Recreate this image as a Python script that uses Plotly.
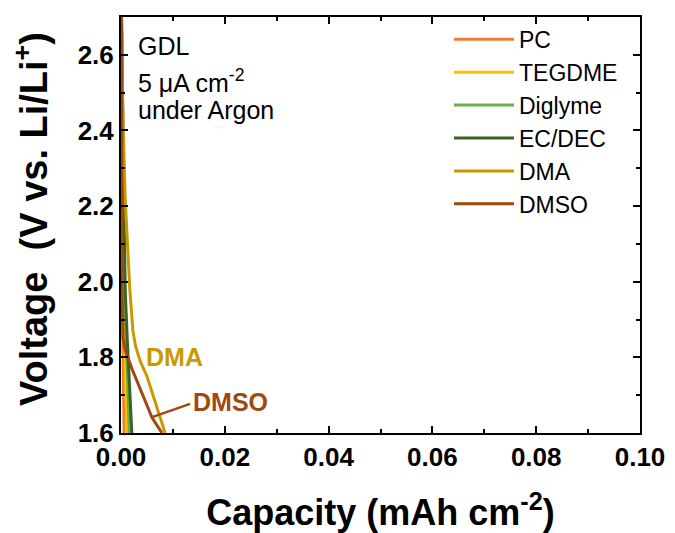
import plotly.graph_objects as go

# Data (capacity in mAh cm-2, voltage in V vs Li/Li+)
pc_cap = [0.0, 0.0001, 0.0002, 0.0003, 0.0005, 0.0006]
pc_v = [2.70, 2.40, 2.10, 1.90, 1.70, 1.60]

tegdme_cap = [0.0, 0.0002, 0.0004, 0.0006, 0.0009, 0.0012]
tegdme_v = [2.70, 2.40, 2.10, 1.90, 1.72, 1.60]

diglyme_cap = [0.0001, 0.0003, 0.0005, 0.0008, 0.0012, 0.0016]
diglyme_v = [2.70, 2.40, 2.15, 1.95, 1.75, 1.60]

ecdec_cap = [0.0001, 0.0004, 0.0008, 0.0012, 0.0017, 0.0021]
ecdec_v = [2.70, 2.35, 1.98, 1.85, 1.70, 1.595]

dma_cap = [0.0001, 0.0003, 0.0008, 0.0017, 0.0023, 0.0028, 0.0037, 0.0050, 0.0085]
dma_v = [2.70, 2.48, 2.22, 1.98, 1.87, 1.83, 1.79, 1.75, 1.60]

dmso_cap = [0.0001, 0.0002, 0.0004, 0.0008, 0.0021, 0.0060, 0.0079]
dmso_v = [2.70, 1.98, 1.85, 1.82, 1.77, 1.64, 1.60]

series = [
    ("PC", pc_cap, pc_v, "#ED7D31"),
    ("TEGDME", tegdme_cap, tegdme_v, "#FFC000"),
    ("Diglyme", diglyme_cap, diglyme_v, "#70AD47"),
    ("EC/DEC", ecdec_cap, ecdec_v, "#3B6526"),
    ("DMA", dma_cap, dma_v, "#C99A00"),
    ("DMSO", dmso_cap, dmso_v, "#A0480E"),
]

x_ticks = [0.0, 0.02, 0.04, 0.06, 0.08, 0.10]
x_ticklabels = ["0.00", "0.02", "0.04", "0.06", "0.08", "0.10"]
y_ticks = [1.6, 1.8, 2.0, 2.2, 2.4, 2.6]
y_ticklabels = ["1.6", "1.8", "2.0", "2.2", "2.4", "2.6"]

FONT = "Liberation Sans, Arial, sans-serif"

fig = go.Figure()
for name, xs, ys, col in series:
    fig.add_trace(go.Scatter(x=xs, y=ys, mode="lines", name=name,
                             line=dict(color=col, width=3)))

axis_common = dict(
    showgrid=False, zeroline=False, showline=True, linecolor="black", linewidth=2,
    mirror="ticks", ticks="inside", ticklen=7, tickwidth=2, tickcolor="black",
    tickfont=dict(family=FONT, size=26, color="black", weight="bold"),
    automargin=False,
)

fig.update_xaxes(
    range=[0, 0.1], tickvals=x_ticks, ticktext=x_ticklabels,
    minor=dict(dtick=0.01, ticks="inside", ticklen=4, tickwidth=2, tickcolor="black"),
    title=dict(text="Capacity (mAh cm<sup>-2</sup>)",
               font=dict(family=FONT, size=36, color="black", weight="bold"), standoff=32),
    **axis_common)
fig.update_yaxes(
    range=[1.6, 2.7], tickvals=y_ticks, ticktext=y_ticklabels,
    minor=dict(dtick=0.1, ticks="inside", ticklen=4, tickwidth=2, tickcolor="black"),
    **axis_common)

# Y-axis title (placed as a rotated annotation to match the reference position)
fig.add_annotation(x=-0.173, y=0.515, xref="paper", yref="paper",
                   text="Voltage\u00a0\u00a0(V vs. Li/Li<sup>+</sup>)", textangle=-90,
                   showarrow=False, xanchor="center", yanchor="middle",
                   font=dict(family=FONT, size=38, color="black", weight="bold"))

# Text annotations
for txt, yv in [("GDL", 2.624), ("5 \u03bcA cm<sup>-2</sup>", 2.530), ("under Argon", 2.453)]:
    fig.add_annotation(x=0.0028, y=yv, xref="x", yref="y", text=txt, showarrow=False,
                       xanchor="left", yanchor="middle",
                       font=dict(family=FONT, size=25, color="black"))

fig.add_annotation(x=0.0045, y=1.80, xref="x", yref="y", text="DMA", showarrow=False,
                   xanchor="left", yanchor="middle",
                   font=dict(family=FONT, size=25, color="#C99A00", weight="bold"))
fig.add_annotation(x=0.0134, y=1.683, xref="x", yref="y", text="DMSO", showarrow=False,
                   xanchor="left", yanchor="middle",
                   font=dict(family=FONT, size=25, color="#A0480E", weight="bold"))
fig.add_shape(type="line", x0=0.006, y0=1.642, x1=0.0133, y1=1.677, xref="x", yref="y",
              line=dict(color="#A0480E", width=2.5))

# page body has an 8px margin, so the figure is sized to fill the rest of the window
fig.update_layout(
    width=667, height=525,
    margin=dict(l=113, r=35, t=9, b=100),
    paper_bgcolor="white", plot_bgcolor="white",
    font=dict(family=FONT, color="black"),
    legend=dict(x=0.632, y=0.998, xanchor="left", yanchor="top",
                bgcolor="rgba(0,0,0,0)", font=dict(family=FONT, size=23, color="black"),
                itemwidth=60, tracegroupgap=0),
)

fig.write_html("out.html")
